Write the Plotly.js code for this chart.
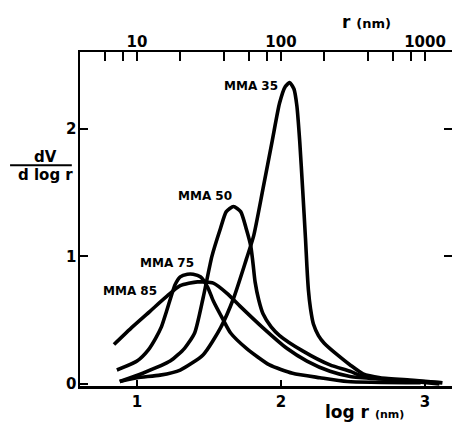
<!DOCTYPE html>
<html><head><meta charset="utf-8">
<script src="https://cdn.plot.ly/plotly-3.0.1.min.js"></script>
<style>body{margin:0;background:#fff}#c{width:453px;height:425px}</style>
</head><body><div id="c"></div>
<script>
// log r (nm) vs dV/dlog r
const mma35_x = [0.88, 1.0, 1.16, 1.30, 1.46, 1.58, 1.67, 1.76, 1.81, 1.875, 1.94, 1.99, 2.03, 2.06, 2.09, 2.11, 2.13, 2.15, 2.17, 2.18, 2.19, 2.205, 2.225, 2.26, 2.30, 2.39, 2.48, 2.57, 2.69, 2.92, 3.12];
const mma35_y = [0.02, 0.05, 0.07, 0.11, 0.23, 0.44, 0.67, 0.98, 1.16, 1.53, 1.91, 2.20, 2.33, 2.36, 2.31, 2.18, 1.90, 1.53, 1.14, 0.92, 0.74, 0.59, 0.47, 0.38, 0.32, 0.23, 0.15, 0.08, 0.05, 0.03, 0.01];
const mma50_x = [0.88, 1.04, 1.23, 1.33, 1.40, 1.46, 1.52, 1.58, 1.62, 1.67, 1.72, 1.76, 1.79, 1.805, 1.82, 1.845, 1.875, 1.93, 1.99, 2.15, 2.34, 2.48, 2.57, 2.92, 3.10];
const mma50_y = [0.02, 0.085, 0.18, 0.28, 0.40, 0.68, 1.00, 1.22, 1.35, 1.39, 1.35, 1.21, 1.08, 0.95, 0.80, 0.66, 0.55, 0.45, 0.38, 0.26, 0.15, 0.10, 0.06, 0.02, 0.0];
const mma75_x = [0.86, 1.0, 1.08, 1.13, 1.17, 1.205, 1.235, 1.265, 1.30, 1.35, 1.39, 1.44, 1.49, 1.53, 1.60, 1.65, 1.76, 1.92, 2.08, 2.27, 2.46, 2.97];
const mma75_y = [0.11, 0.18, 0.27, 0.36, 0.45, 0.57, 0.68, 0.78, 0.84, 0.86, 0.86, 0.84, 0.76, 0.65, 0.50, 0.40, 0.28, 0.15, 0.085, 0.05, 0.02, 0.01];
const mma85_x = [0.84, 0.97, 1.09, 1.21, 1.30, 1.42, 1.53, 1.625, 1.715, 1.875, 2.04, 2.18, 2.34, 2.48, 2.69, 3.12];
const mma85_y = [0.31, 0.45, 0.57, 0.69, 0.77, 0.80, 0.79, 0.71, 0.61, 0.44, 0.28, 0.18, 0.10, 0.06, 0.04, 0.01];

const seriesNames = ["MMA 35", "MMA 50", "MMA 75", "MMA 85"];
const bottomTicks = [1, 2, 3];
const leftTicks = [0, 1, 2];
const rightTicks = [1, 2];
const topTickVals = [6, 8, 10, 20, 40, 60, 80, 100, 200, 400, 600, 800, 1000];
const topTickText = ["", "", "10", "", "", "", "", "100", "", "", "", "", "1000"];

const X0 = 0.604, X1 = 3.1875;
const lineStyle = {color: "#000", width: 3.6, shape: "spline", smoothing: 0.6};
const xs = [mma35_x, mma50_x, mma75_x, mma85_x];
const ys = [mma35_y, mma50_y, mma75_y, mma85_y];
const traces = xs.map((x, i) => ({x: x, y: ys[i], type: "scatter", mode: "lines", name: seriesNames[i], line: lineStyle, hoverinfo: "skip"}));
traces.push({x: [10], y: [0], xaxis: "x2", yaxis: "y", mode: "markers", marker: {opacity: 0}, showlegend: false, hoverinfo: "skip"});
traces.push({x: [1], y: [0], xaxis: "x", yaxis: "y2", mode: "markers", marker: {opacity: 0}, showlegend: false, hoverinfo: "skip"});

const F = "DejaVu Sans, sans-serif";
const labelFont = {family: F, size: 12, color: "#000", weight: "bold"};
const tickFont = {family: F, size: 15, color: "#000", weight: "bold"};
const ann = (o) => Object.assign({showarrow: false, xanchor: "center", yanchor: "middle", borderpad: 0}, o);
const layout = {
  width: 453, height: 425,
  margin: {l: 80, r: 1, t: 52, b: 39},
  paper_bgcolor: "#fff", plot_bgcolor: "rgba(0,0,0,0)",
  showlegend: false,
  font: {family: F, color: "#000"},
  xaxis: {range: [X0, X1], tickmode: "array", tickvals: bottomTicks, ticktext: bottomTicks.map(String), ticks: "inside", ticklen: 6, tickwidth: 2, tickcolor: "#000",
          showline: true, linewidth: 2.5, linecolor: "#000", showgrid: false, zeroline: false, tickfont: tickFont},
  xaxis2: {type: "log", overlaying: "x", side: "top", range: [X0, X1], tickmode: "array", tickvals: topTickVals, ticktext: topTickText, ticks: "inside", ticklen: 9, tickwidth: 2.2, tickcolor: "#000",
           showline: true, linewidth: 2.5, linecolor: "#000", showgrid: false, zeroline: false, tickfont: tickFont, ticklabelstandoff: -3},
  yaxis: {range: [-0.015, 2.6], tickmode: "array", tickvals: leftTicks, ticktext: leftTicks.map(String), ticks: "inside", ticklen: 8, tickwidth: 2.2, tickcolor: "#000",
          showline: true, linewidth: 2.5, linecolor: "#000", showgrid: false, zeroline: false, tickfont: tickFont, ticklabelstandoff: -2},
  yaxis2: {range: [-0.015, 2.6], overlaying: "y", side: "right", tickmode: "array", tickvals: rightTicks, ticks: "inside", ticklen: 8, tickwidth: 2.2, tickcolor: "#000",
           showticklabels: false, showline: false, showgrid: false, zeroline: false},
  annotations: [
    ann({x: 1.985, y: 2.33, xref: "x", yref: "y", text: seriesNames[0], xanchor: "right", font: labelFont}),
    ann({x: 1.665, y: 1.47, xref: "x", yref: "y", text: seriesNames[1], xanchor: "right", font: labelFont}),
    ann({x: 1.21, y: 0.945, xref: "x", yref: "y", text: seriesNames[2], font: labelFont}),
    ann({x: 0.95, y: 0.725, xref: "x", yref: "y", text: seriesNames[3], font: labelFont}),
    ann({x: 0.77, y: 1.09, xref: "paper", yref: "paper", text: "r <span style='font-size:13px'>(nm)</span>", font: {size: 17, family: F, weight: "bold"}}),
    ann({x: 0.765, y: -0.078, xref: "paper", yref: "paper", text: "log r <span style='font-size:11px'>(nm)</span>", font: {size: 17, family: F, weight: "bold"}}),
    ann({x: -0.094, y: 0.656, xref: "paper", yref: "paper", text: "dV", yanchor: "bottom", font: {size: 15, family: F, weight: "bold"}}),
    ann({x: -0.094, y: 0.662, xref: "paper", yref: "paper", text: "d log r", yanchor: "top", font: {size: 15, family: F, weight: "bold"}})
  ],
  shapes: [
    {type: "line", xref: "paper", yref: "paper", x0: -0.188, x1: -0.022, y0: 0.661, y1: 0.661, line: {color: "#000", width: 2.2}}
  ]
};
Plotly.newPlot("c", traces, layout, {staticPlot: true, displayModeBar: false});
</script></body></html>
